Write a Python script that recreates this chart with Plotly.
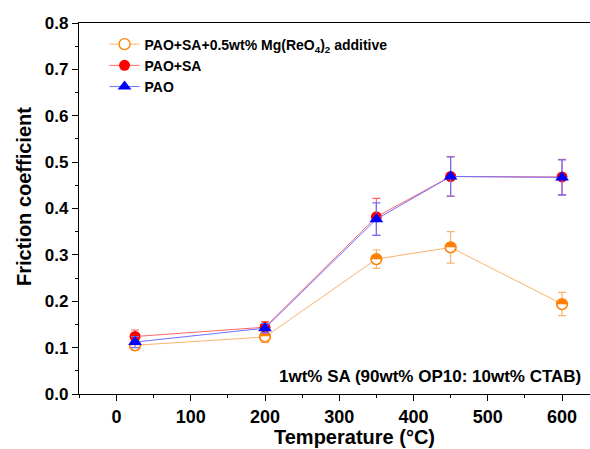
import plotly.graph_objects as go

# Test temperatures (°C)
temperature = [25, 200, 350, 450, 600]

# Friction coefficient and error for each lubricant
mg_additive = [0.105, 0.123, 0.291, 0.316, 0.194]
mg_additive_err = [0.010, 0.012, 0.020, 0.034, 0.025]

pao_sa = [0.124, 0.144, 0.382, 0.469, 0.468]
pao_sa_err = [0.014, 0.012, 0.040, 0.043, 0.038]

pao = [0.112, 0.142, 0.377, 0.469, 0.467]
pao_err = [0.012, 0.010, 0.035, 0.042, 0.038]

names = ["PAO+SA+0.5wt% Mg(ReO<sub>4</sub>)<sub>2</sub> additive", "PAO+SA", "PAO"]
note = "1wt% SA (90wt% OP10: 10wt% CTAB)"
x_title = "Temperature (°C)"
y_title = "Friction coefficient"

x_ticks = [0, 100, 200, 300, 400, 500, 600]
y_ticks = [0.0, 0.1, 0.2, 0.3, 0.4, 0.5, 0.6, 0.7, 0.8]

FONT = "Liberation Sans, Arial, sans-serif"
ORANGE = "#ff8000"
ORANGE_LINE = "#f9b46e"
RED = "#ff0000"
RED_LINE = "#ff6666"
BLUE = "#0000ff"
BLUE_LINE = "#6f6fff"

fig = go.Figure()

# Mg(ReO4)2 additive: half-filled circle markers
fig.add_trace(go.Scatter(
    x=temperature, y=mg_additive, name=names[0], mode="lines+markers",
    line=dict(color=ORANGE_LINE, width=1),
    marker=dict(symbol="circle", size=11, color="white",
                line=dict(color=ORANGE, width=1.3)),
    error_y=dict(type="data", array=mg_additive_err, color=ORANGE_LINE,
                 thickness=1.2, width=4),
))
fig.add_trace(go.Scatter(
    x=temperature, y=mg_additive, mode="text", text=["◓"] * len(temperature),
    textposition="middle center", showlegend=False, hoverinfo="skip",
    textfont=dict(family="DejaVu Sans", size=14, color=ORANGE),
))

fig.add_trace(go.Scatter(
    x=temperature, y=pao_sa, name=names[1], mode="lines+markers",
    line=dict(color=RED_LINE, width=1),
    marker=dict(symbol="circle", size=11, color=RED),
    error_y=dict(type="data", array=pao_sa_err, color=RED_LINE,
                 thickness=1.2, width=4),
))

fig.add_trace(go.Scatter(
    x=temperature, y=pao, name=names[2], mode="lines+markers",
    line=dict(color=BLUE_LINE, width=1),
    marker=dict(symbol="triangle-up", size=12, color=BLUE),
    error_y=dict(type="data", array=pao_err, color=BLUE_LINE,
                 thickness=1.2, width=4),
))

fig.add_annotation(
    x=1, xref="paper", xanchor="right", xshift=-7,
    y=0, yref="paper", yanchor="bottom", yshift=6,
    text=note, showarrow=False,
    font=dict(family=FONT, size=17, color="black", weight="bold"),
)

# Axis titles
fig.add_annotation(
    x=0.54, xref="paper", xanchor="center",
    y=0, yref="paper", yanchor="top", yshift=-30,
    text=x_title, showarrow=False,
    font=dict(family=FONT, size=20, color="black", weight="bold"),
)
fig.add_annotation(
    x=0, xref="paper", xanchor="center", xshift=-55,
    y=0.531, yref="paper", yanchor="middle",
    text=y_title, textangle=-90, showarrow=False,
    font=dict(family=FONT, size=20, color="black", weight="bold"),
)

fig.update_layout(
    width=590, height=449,
    margin=dict(l=79, r=0, t=23, b=55),
    paper_bgcolor="white", plot_bgcolor="white",
    font=dict(family=FONT, color="black", weight="bold"),
    legend=dict(
        x=0.05, y=0.985, xanchor="left", yanchor="top",
        bgcolor="rgba(0,0,0,0)", tracegroupgap=0,
        font=dict(family=FONT, size=14, color="black", weight="bold"),
    ),
    xaxis=dict(
        range=[-50.5, 637.7], tickvals=x_ticks,
        showline=True, linecolor="black", linewidth=1.3, mirror=True,
        ticks="outside", ticklen=6, tickwidth=1.3, tickcolor="black",
        minor=dict(dtick=50, ticks="outside", ticklen=3, tickwidth=1.2, tickcolor="black"),
        showgrid=False, zeroline=False,
        tickfont=dict(family=FONT, size=18, weight="bold"),
    ),
    yaxis=dict(
        range=[0, 0.8], tickvals=y_ticks, tickformat=".1f",
        showline=True, linecolor="black", linewidth=1.3, mirror=False,
        ticks="outside", ticklen=6, tickwidth=1.3, tickcolor="black",
        minor=dict(dtick=0.05, ticks="outside", ticklen=3, tickwidth=1.2, tickcolor="black"),
        showgrid=False, zeroline=False,
        tickfont=dict(family=FONT, size=17, weight="bold"),
    ),
)

fig.write_html("out.html")
